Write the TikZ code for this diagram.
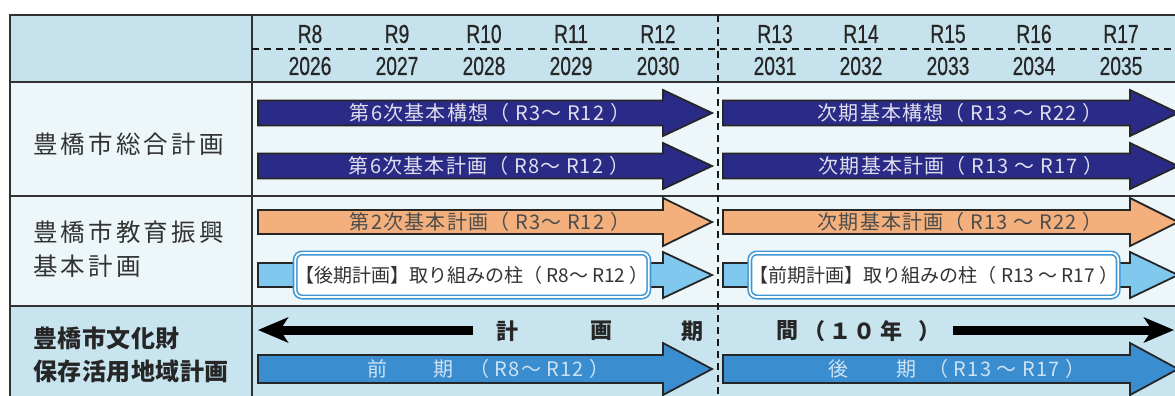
\documentclass[tikz,border=0pt]{standalone}
\usepackage{fontspec}
\usetikzlibrary{arrows.meta}
\newfontfamily\jp{Noto Sans CJK JP}
\newfontfamily\jpa{Noto Sans CJK JP}[LetterSpace=6]
\newfontfamily\jpsp{Noto Sans CJK JP}[LetterSpace=13]
\newfontfamily\jpspb{Noto Sans CJK JP}[LetterSpace=2]
\newfontfamily\numf{Liberation Sans}[FakeStretch=0.74,FakeBold=0.5]
\definecolor{hdrbg}{RGB}{198,227,237}
\definecolor{rowbg}{RGB}{237,246,249}
\definecolor{rthreebg}{RGB}{200,229,239}
\definecolor{navyc}{RGB}{42,42,135}
\definecolor{orangec}{RGB}{243,176,125}
\definecolor{lblue}{RGB}{128,200,238}
\definecolor{mblue}{RGB}{58,141,207}
\definecolor{boxblue}{RGB}{62,150,212}
\definecolor{gridc}{RGB}{50,50,50}
\newcommand\fatarr[7]{%
  \draw[#7] (#1,#4-#5) -- (#2,#4-#5) -- (#2,#4-#6) -- (#3,#4) -- (#2,#4+#6) -- (#2,#4+#5) -- (#1,#4+#5) -- cycle;}
\begin{document}
\begin{tikzpicture}[x=1pt,y=-1pt,
  gridln/.style={draw=gridc,line width=2pt},
  dashln/.style={draw=black!90,line width=1.8pt,dash pattern=on 7pt off 5pt},
  farrow/.style={draw=black!85,line width=1.8pt,line join=miter},
  hdr/.style={font=\numf\fontsize{26}{28}\selectfont,text=black!85,inner sep=0pt},
  lbl/.style={anchor=west,inner sep=0pt,text=black!80,font=\jpsp\fontsize{24.5}{28}\selectfont},
  lblb/.style={anchor=west,inner sep=0pt,text=black!85,font=\jpspb\bfseries\fontsize{24}{28}\selectfont},
  atxt/.style={inner sep=0pt,font=\jpa\fontsize{20}{22}\selectfont},
  ktxt/.style={inner sep=0pt,text=black!85,font=\jp\bfseries\fontsize{22}{24}\selectfont},
  tbox/.style={draw=boxblue,line width=1.6pt,double=white,double distance=1.8pt,fill=white,rounded corners=7pt,inner sep=0pt,text=black!80,font=\jp\fontsize{19}{21}\selectfont},
  karrow/.style={draw=black,line width=9pt,-{Stealth[length=30pt,width=25pt,inset=8pt]}}]
\useasboundingbox (0,0) rectangle (1175,396);
\clip (0,0) rectangle (1175,396);
% backgrounds
\fill[hdrbg] (10,15) rectangle (1175,82);
\fill[rowbg] (10,82) rectangle (1175,306);
\fill[rthreebg] (10,306) rectangle (1175,396);
% grid
\draw[gridln] (1175,15) -- (10,15) -- (10,396);
\draw[gridln] (10,82) -- (1175,82);
\draw[gridln] (10,196) -- (1175,196);
\draw[gridln] (10,306) -- (1175,306);
\draw[gridln] (252,15) -- (252,396);
\draw[dashln] (252,49) -- (1175,49);
\draw[dashln] (718,15) -- (718,396);
% header
\foreach \r/\yr/\x in {R8/2026/310,R9/2027/397,R10/2028/484,R11/2029/571,R12/2030/658,R13/2031/775,R14/2032/861,R15/2033/948,R16/2034/1034,R17/2035/1121}{
  \node[hdr] (r\yr) at (\x,34) {\r};
  \node[hdr] (y\yr) at (\x,66) {\yr};
}
% left labels
\node[lbl] (l1) at (33,144) {豊橋市総合計画};
\node[lbl] (l2a) at (33,232) {豊橋市教育振興};
\node[lbl] (l2b) at (33,266) {基本計画};
\node[lblb] (l3a) at (33,338) {豊橋市文化財};
\node[lblb] (l3b) at (33,371) {保存活用地域計画};
% row 1 arrows
\fatarr{258}{663}{712}{113}{12.5}{23}{farrow,fill=navyc}
\fatarr{723}{1130}{1178}{113}{12.5}{23}{farrow,fill=navyc}
\fatarr{258}{663}{712}{166}{12.5}{23}{farrow,fill=navyc}
\fatarr{723}{1130}{1178}{166}{12.5}{23}{farrow,fill=navyc}
\node[atxt,text=navyc!15] (t1a) at (490,113) {第6次基本構想（ R3～ R12 ）};
\node[atxt,text=navyc!15] (t1b) at (960,113) {次期基本構想（ R13 ～ R22 ）};
\node[atxt,text=navyc!15] (t2a) at (489,166) {第6次基本計画（ R8～ R12 ）};
\node[atxt,text=navyc!15] (t2b) at (961,166) {次期基本計画（ R13 ～ R17 ）};
% row 2 arrows
\fatarr{258}{663}{712}{222}{12}{24}{farrow,fill=orangec}
\fatarr{723}{1130}{1178}{222}{12}{24}{farrow,fill=orangec}
\node[atxt,text=black!70] (t3a) at (490,222) {第2次基本計画（ R3～ R12 ）};
\node[atxt,text=black!70] (t3b) at (960,222) {次期基本計画（ R13 ～ R22 ）};
\fatarr{258}{663}{712}{275}{12}{23}{farrow,fill=lblue}
\fatarr{723}{1130}{1178}{275}{12}{23}{farrow,fill=lblue}
\node[tbox,minimum width=350pt,minimum height=44pt] (b1) at (472,275) {【後期計画】取り組みの柱（ R8～ R12 ）};
\node[tbox,minimum width=362pt,minimum height=44pt] (b2) at (934,275) {【前期計画】取り組みの柱（ R13 ～ R17 ）};
% row 3
\coordinate (ka) at (473,330);
\coordinate (kb) at (258,330);
\coordinate (kc) at (953,330);
\coordinate (kd) at (1174,330);
\draw[karrow] (ka) -- (kb);
\draw[karrow] (kc) -- (kd);
\node[ktxt] (k1) at (507,331) {計};
\node[ktxt] (k2) at (601,331) {画};
\node[ktxt] (k3) at (692,331) {期};
\node[ktxt] (k4) at (787,331) {間};
\node[ktxt] (k5) at (814,331) {（};
\node[ktxt] (k6) at (840,331) {１};
\node[ktxt] (k7) at (864,331) {０};
\node[ktxt] (k8) at (891,331) {年};
\node[ktxt] (k9) at (929,331) {）};
\fatarr{258}{663}{712}{369}{14}{26}{farrow,fill=mblue}
\fatarr{723}{1130}{1178}{369}{14}{26}{farrow,fill=mblue}
\node[atxt,anchor=west,text=mblue!25] (t4a) at (367,369) {前\hspace{46pt}期\hspace{16pt}（ R8～ R12 ）};
\node[atxt,anchor=west,text=mblue!25] (t4b) at (828,369) {後\hspace{48pt}期\hspace{12pt}（ R13 ～ R17 ）};
\end{tikzpicture}
\end{document}
